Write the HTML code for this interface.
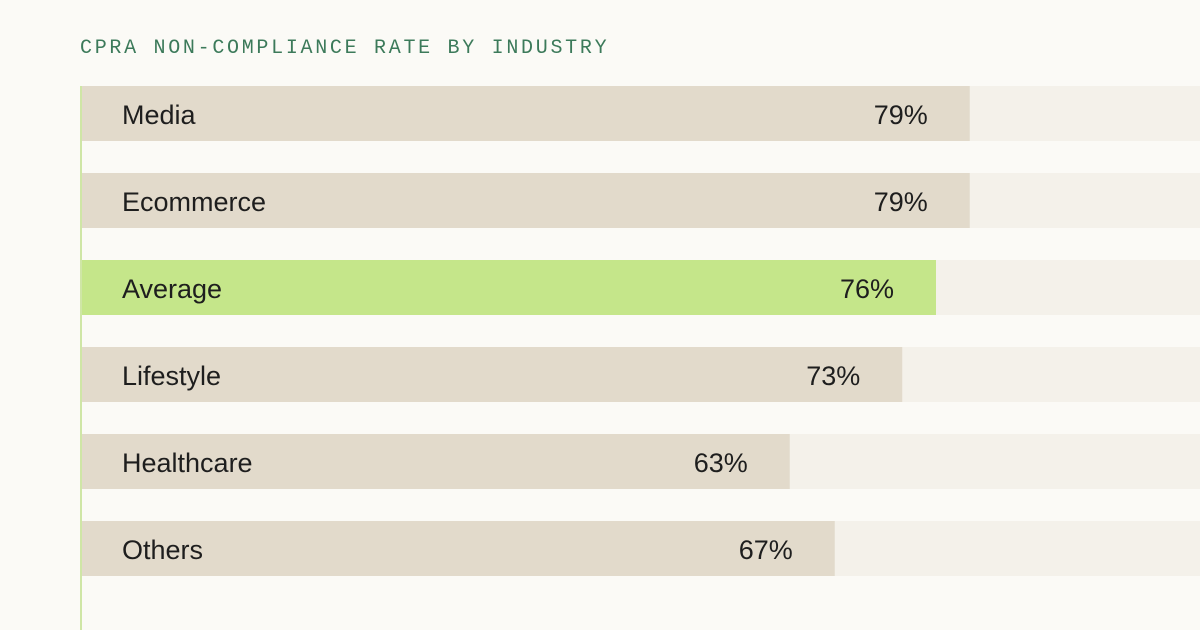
<!DOCTYPE html>
<html><head><meta charset="utf-8"><style>
html,body{margin:0;padding:0;background:#fbfaf6;}
svg{display:block;}
</style></head><body>
<svg id="chart" width="1200" height="630" viewBox="0 0 1200 630" xmlns="http://www.w3.org/2000/svg">
<rect width="1200" height="630" fill="#fbfaf6"/>
<text x="80" y="53" font-family="Liberation Mono, monospace" font-size="20" letter-spacing="2.7" fill="#3c7a5a">CPRA NON-COMPLIANCE RATE BY INDUSTRY</text>
<g id="bars"></g>
<line x1="81" y1="86" x2="81" y2="630" stroke="#cfe6a6" stroke-width="2"/>
</svg>
<script>
const categories = ["Media","Ecommerce","Average","Lifestyle","Healthcare","Others"];
const values = [79,79,76,73,63,67];
const labels = ["79%","79%","76%","73%","63%","67%"];
const highlight = [false,false,true,false,false,false];

const x0 = 81, x100 = 1206;
function xScale(v){ return x0 + (x100 - x0) * v / 100; }
function yScale(i){ return 86 + i * 87; }
const barH = 55;
const g = document.getElementById('bars');
const NS = 'http://www.w3.org/2000/svg';
categories.forEach((c, i) => {
  const y = yScale(i);
  const track = document.createElementNS(NS, 'rect');
  
  
  track.setAttribute('x', x0); track.setAttribute('y', y);
  track.setAttribute('width', 1200 - x0); track.setAttribute('height', barH);
  track.setAttribute('fill', '#f4f1ea');
  g.appendChild(track);
  const bar = document.createElementNS(NS, 'rect');
  
  
  const xe = xScale(values[i]);
  bar.setAttribute('x', x0); bar.setAttribute('y', y);
  bar.setAttribute('width', xe - x0); bar.setAttribute('height', barH);
  bar.setAttribute('fill', highlight[i] ? '#c5e68a' : '#e2dacb');
  g.appendChild(bar);
  const t = document.createElementNS(NS, 'text');
  
  
  t.setAttribute('x', 122); t.setAttribute('y', y + 38);
  t.setAttribute('font-family', 'Liberation Sans, sans-serif');
  t.setAttribute('font-size', '27'); t.setAttribute('fill', '#1e1e1e');
  t.textContent = c;
  g.appendChild(t);
  const v = document.createElementNS(NS, 'text');
  
  
  v.setAttribute('x', xe - 42); v.setAttribute('y', y + 38);
  v.setAttribute('text-anchor', 'end');
  v.setAttribute('font-family', 'Liberation Sans, sans-serif');
  v.setAttribute('font-size', '27'); v.setAttribute('fill', '#1e1e1e');
  v.textContent = labels[i];
  g.appendChild(v);
});
</script>
</body></html>
